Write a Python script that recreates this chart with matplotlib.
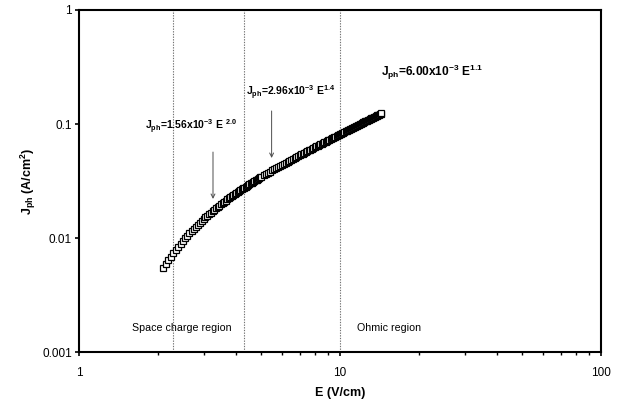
import matplotlib
matplotlib.use("Agg")
import matplotlib.pyplot as plt
from matplotlib.ticker import FixedLocator, FixedFormatter, NullLocator

plt.rcParams['font.family'] = ['Liberation Sans', 'DejaVu Sans']
plt.rcParams['mathtext.fontset'] = 'custom'
plt.rcParams['mathtext.rm'] = 'Liberation Sans'
plt.rcParams['mathtext.bf'] = 'Liberation Sans:bold'
plt.rcParams['mathtext.it'] = 'Liberation Sans:italic'

# Electric field (V/cm)
E = [2.10, 2.15, 2.20, 2.25, 2.30, 2.35, 2.40, 2.45, 2.50, 2.55,
     2.60, 2.65, 2.70, 2.75, 2.80, 2.85, 2.90, 2.95, 3.00, 3.05,
     3.10, 3.15, 3.20, 3.25, 3.30, 3.35, 3.40, 3.45, 3.50, 3.55,
     3.60, 3.65, 3.70, 3.75, 3.80, 3.85, 3.90, 3.95, 4.00, 4.05,
     4.10, 4.15, 4.20, 4.25, 4.30, 4.35, 4.40, 4.45, 4.50, 4.55,
     4.60, 4.65, 4.70, 4.75, 4.80, 4.85, 4.90, 4.95, 5.00,
     5.1, 5.2, 5.3, 5.4, 5.5, 5.6, 5.7, 5.8, 5.9, 6.0,
     6.1, 6.2, 6.3, 6.4, 6.5, 6.6, 6.7, 6.8, 6.9, 7.0,
     7.1, 7.2, 7.3, 7.4, 7.5, 7.6, 7.7, 7.8, 7.9, 8.0,
     8.1, 8.2, 8.3, 8.4, 8.5, 8.6, 8.7, 8.8, 8.9, 9.0,
     9.1, 9.2, 9.3, 9.4, 9.5, 9.6, 9.7, 9.8, 9.9, 10.0,
     10.1, 10.2, 10.3, 10.4, 10.5, 10.6, 10.7, 10.8, 10.9, 11.0,
     11.1, 11.2, 11.3, 11.4, 11.5, 11.6, 11.7, 11.8, 11.9, 12.0,
     12.1, 12.2, 12.3, 12.4, 12.5, 12.6, 12.7, 12.8, 12.9, 13.0,
     13.1, 13.2, 13.3, 13.4, 13.5, 13.6, 13.7, 13.8, 13.9, 14.0,
     14.1, 14.2, 14.3, 14.4]

# Photocurrent density (A/cm^2)
J = [0.00543, 0.00590, 0.00641, 0.00690, 0.00742, 0.00791, 0.00844, 0.00894, 0.00947, 0.00998,
     0.01052, 0.01103, 0.01156, 0.01207, 0.01261, 0.01312, 0.01365, 0.01416, 0.01469, 0.01520,
     0.01573, 0.01624, 0.01676, 0.01727, 0.01779, 0.01830, 0.01882, 0.01932, 0.01984, 0.02033,
     0.02084, 0.02133, 0.02184, 0.02233, 0.02284, 0.02333, 0.02384, 0.02433, 0.02483, 0.02532,
     0.02582, 0.02630, 0.02679, 0.02728, 0.02778, 0.02826, 0.02875, 0.02923, 0.02971, 0.03020,
     0.03069, 0.03117, 0.03165, 0.03213, 0.03261, 0.03309, 0.03358, 0.03404, 0.03451,
     0.03548, 0.03643, 0.03738, 0.03832, 0.03926, 0.04020, 0.04115, 0.04209, 0.04304, 0.04397,
     0.04490, 0.04584, 0.04678, 0.04773, 0.04866, 0.04959, 0.05053, 0.05147, 0.05239, 0.05334,
     0.05427, 0.05521, 0.05614, 0.05708, 0.05801, 0.05897, 0.05989, 0.06083, 0.06176, 0.06271,
     0.06364, 0.06459, 0.06552, 0.06648, 0.06741, 0.06836, 0.06929, 0.07022, 0.07115, 0.07210,
     0.07304, 0.07400, 0.07493, 0.07586, 0.07680, 0.07775, 0.07869, 0.07965, 0.08059, 0.08153,
     0.08247, 0.08343, 0.08437, 0.08531, 0.08625, 0.08722, 0.08817, 0.08913, 0.09008, 0.09104,
     0.09199, 0.09295, 0.09390, 0.09489, 0.09585, 0.09681, 0.09776, 0.09872, 0.09967, 0.10060,
     0.10156, 0.10257, 0.10353, 0.10447, 0.10543, 0.10641, 0.10737, 0.10834, 0.10931, 0.11025,
     0.11122, 0.11223, 0.11320, 0.11416, 0.11513, 0.11610, 0.11707, 0.11803, 0.11900, 0.11998,
     0.12096, 0.12196, 0.12294, 0.12391]

# Region boundaries (V/cm)
boundaries = [2.3, 4.28, 10.0]

x_ticks = [1, 10, 100]
x_tick_labels = ["1", "10", "100"]
x_minor = [2, 3, 4, 5, 6, 7, 8, 9, 20, 30, 40, 50, 60, 70, 80, 90]
y_ticks = [0.001, 0.01, 0.1, 1]
y_tick_labels = ["0.001", "0.01", "0.1", "1"]

fig = plt.figure(figsize=(6.27, 4.03), dpi=100)
ax = fig.add_axes([79/627, 1-352.3/403, 522/627, 342.3/403])

ax.set_xscale('log')
ax.set_yscale('log')
ax.set_xlim(1, 100)
ax.set_ylim(0.001, 1)

for b in boundaries:
    ax.axvline(b, color='0.45', lw=0.8, ls=(0, (1.2, 1.2)), zorder=1)

ax.plot(E, J, ls='none', marker='s', ms=4.0, mfc='white', mec='black', mew=0.9, zorder=3)

ax.xaxis.set_major_locator(FixedLocator(x_ticks))
ax.xaxis.set_major_formatter(FixedFormatter(x_tick_labels))
ax.xaxis.set_minor_locator(FixedLocator(x_minor))
ax.xaxis.set_minor_formatter(FixedFormatter([""] * len(x_minor)))
ax.yaxis.set_major_locator(FixedLocator(y_ticks))
ax.yaxis.set_major_formatter(FixedFormatter(y_tick_labels))
ax.yaxis.set_minor_locator(NullLocator())

for s in ax.spines.values():
    s.set_linewidth(1.5)
    s.set_color('black')

ax.tick_params(axis='x', which='major', direction='out', length=3, width=1.2, labelsize=8.5, pad=7.5)
ax.tick_params(axis='x', which='minor', direction='out', length=2.2, width=1.0)
ax.tick_params(axis='y', which='major', direction='out', length=3, width=1.2, labelsize=8.5, pad=2)

ax.set_xlabel('E (V/cm)', fontsize=9, fontweight='bold', labelpad=6)
ax.set_ylabel(r'J$_{\mathbf{ph}}$ (A/cm$^{\mathbf{2}}$)', fontsize=9, fontweight='bold', labelpad=3)

ax.text(0.1264, 0.658, r'J$_{\mathbf{ph}}$=1.56x10$^{\mathbf{-3}}$ E $^{\mathbf{2.0}}$',
        transform=ax.transAxes, fontsize=7.5, fontweight='bold', ha='left', va='center')
ax.text(0.320, 0.7575, r'J$_{\mathbf{ph}}$=2.96x10$^{\mathbf{-3}}$ E$^{\mathbf{1.4}}$',
        transform=ax.transAxes, fontsize=7.5, fontweight='bold', ha='left', va='center')
ax.text(0.5785, 0.819, r'J$_{\mathbf{ph}}$=6.00x10$^{\mathbf{-3}}$ E$^{\mathbf{1.1}}$',
        transform=ax.transAxes, fontsize=8.6, fontweight='bold', ha='left', va='center')

arrow = dict(arrowstyle='->', color='0.3', lw=0.7, shrinkA=0, shrinkB=0, mutation_scale=7)
ax.annotate('', xy=(0.2567, 0.448), xytext=(0.2567, 0.585), xycoords='axes fraction',
            textcoords='axes fraction', arrowprops=arrow)
ax.annotate('', xy=(0.369, 0.5677), xytext=(0.369, 0.705), xycoords='axes fraction',
            textcoords='axes fraction', arrowprops=arrow)

ax.text(0.1015, 0.071, 'Space charge region', transform=ax.transAxes, fontsize=7.7,
        ha='left', va='center')
ax.text(0.5326, 0.071, 'Ohmic region', transform=ax.transAxes, fontsize=7.7,
        ha='left', va='center')

fig.savefig('out.png', dpi=100)
